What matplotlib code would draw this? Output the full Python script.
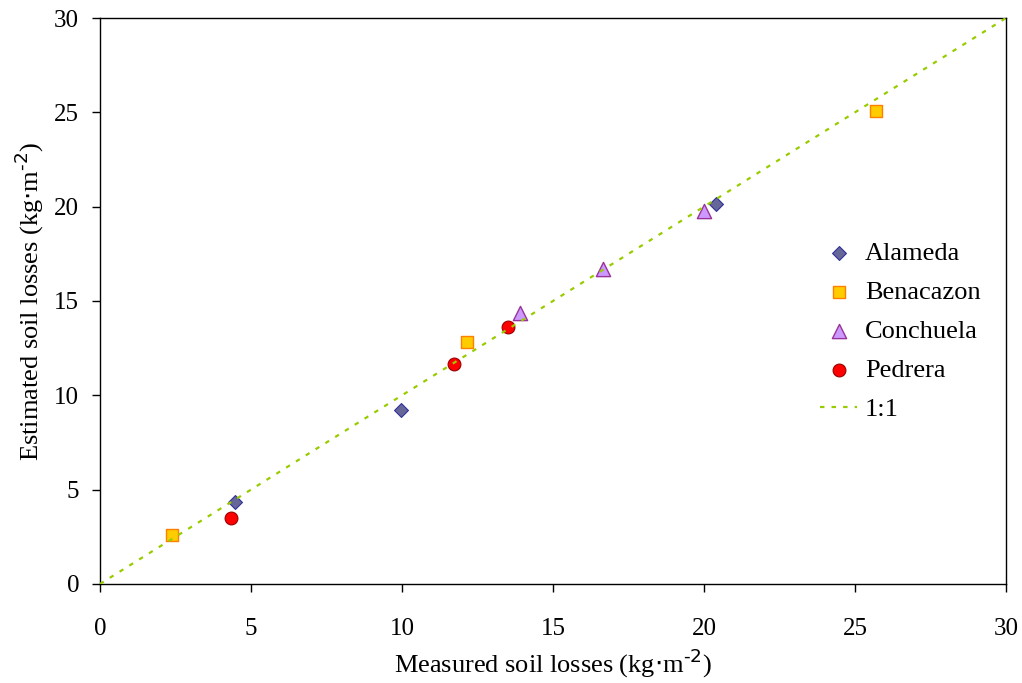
import matplotlib.pyplot as plt

plt.rcParams["font.family"] = ["Liberation Serif", "DejaVu Serif"]

# measured vs estimated soil losses (kg m-2) per site
alameda_x = [4.47, 9.97, 20.4]
alameda_y = [4.35, 9.22, 20.14]
benacazon_x = [2.38, 12.15, 25.7]
benacazon_y = [2.6, 12.82, 25.07]
conchuela_x = [13.9, 16.66, 20.0]
conchuela_y = [14.36, 16.69, 19.77]
pedrera_x = [4.34, 11.72, 13.51]
pedrera_y = [3.5, 11.66, 13.62]
one_to_one = [0, 30]

fig = plt.figure(figsize=(10.22, 6.83), dpi=100)
ax = fig.add_axes([0.0978, 0.145, 0.8865, 0.8286])

ax.scatter(alameda_x, alameda_y, marker="D", s=50, facecolor="#666699",
           edgecolor="#333399", linewidth=0.8, label="Alameda", zorder=3)
ax.scatter(benacazon_x, benacazon_y, marker="s", s=85, facecolor="#FFCC00",
           edgecolor="#FF8000", linewidth=1.0, label="Benacazon", zorder=3)
ax.scatter(conchuela_x, conchuela_y, marker="^", s=105, facecolor="#CC99FF",
           edgecolor="#993399", linewidth=1.0, label="Conchuela", zorder=3)
ax.scatter(pedrera_x, pedrera_y, marker="o", s=85, facecolor="#FF0000",
           edgecolor="#990000", linewidth=0.8, label="Pedrera", zorder=3)
ax.plot(one_to_one, one_to_one, color="#99CC00", linewidth=1.6,
        dashes=(2, 3.2), label="1:1", zorder=4)

ax.set_xlim(0, 30)
ax.set_ylim(0, 30)
ax.set_xticks(range(0, 31, 5))
ax.set_yticks(range(0, 31, 5))
ax.tick_params(direction="out", length=6, width=1, labelsize=18)
ax.tick_params(axis="x", pad=18.5)
ax.tick_params(axis="y", pad=9)
for sp in ax.spines.values():
    sp.set_linewidth(1)

unit = "(kg$\\cdot$m$^{\\text{-2}}$)"
ax.set_xlabel("Measured soil losses " + unit, fontsize=19, labelpad=5)
ax.set_ylabel("Estimated soil losses " + unit, fontsize=19, labelpad=6)

ax.legend(loc="center left", bbox_to_anchor=(0.795, 0.446), frameon=False,
          fontsize=19, handlelength=1.4, handletextpad=0.3, labelspacing=0.59,
          borderpad=0, borderaxespad=0)

fig.savefig("out.png", dpi=100)
